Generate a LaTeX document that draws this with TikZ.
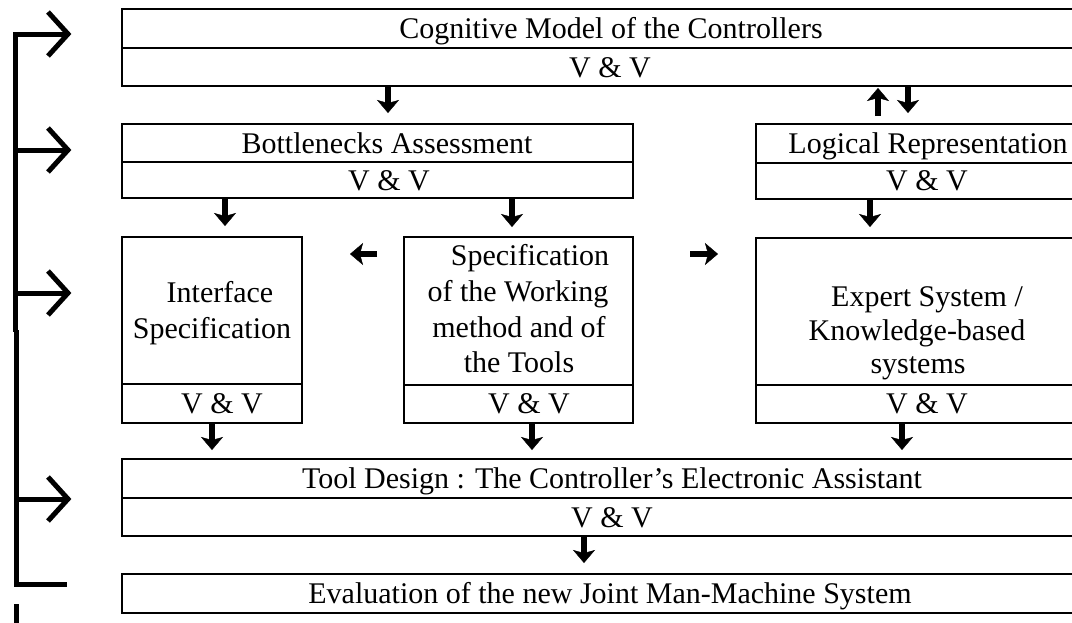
\documentclass[tikz,border=0pt]{standalone}
\usepackage{fontspec}
\setmainfont{Liberation Serif}
\usetikzlibrary{arrows.meta,calc}
\begin{document}
\begin{tikzpicture}[x=1pt,y=-1pt,
  box/.style={draw=black, line width=1.8pt, rectangle, inner sep=0pt, outer sep=0pt, anchor=north west},
  txt/.style={anchor=base, inner sep=0pt, font=\fontsize{30}{35}\selectfont},
  blk/.style={line width=6pt, -{Stealth[length=13pt,width=22pt,inset=3pt,line width=0.4pt]}},
  fb/.style={line width=5pt, line join=miter},
  chev/.style={line width=5pt, line join=miter}]
\useasboundingbox (0,0) rectangle (1072,622);
\clip (0,0) rectangle (1072,622);
% boxes
\node[box, minimum width=976pt, minimum height=39pt] (top1) at (122,9) {};
\node[box, minimum width=976pt, minimum height=38pt] (top2) at (122,48) {};
\node[box, minimum width=511pt, minimum height=38pt] (bn1) at (122,124) {};
\node[box, minimum width=511pt, minimum height=36pt] (bn2) at (122,162) {};
\node[box, minimum width=342pt, minimum height=39pt] (lr1) at (756,124) {};
\node[box, minimum width=342pt, minimum height=36pt] (lr2) at (756,163) {};
\node[box, minimum width=180pt, minimum height=147pt] (if1) at (122,237) {};
\node[box, minimum width=180pt, minimum height=39pt] (if2) at (122,384) {};
\node[box, minimum width=229pt, minimum height=148pt] (sp1) at (404,237) {};
\node[box, minimum width=229pt, minimum height=38pt] (sp2) at (404,385) {};
\node[box, minimum width=342pt, minimum height=147pt] (ex1) at (756,238) {};
\node[box, minimum width=342pt, minimum height=38pt] (ex2) at (756,385) {};
\node[box, minimum width=976pt, minimum height=39pt] (tl1) at (122,459) {};
\node[box, minimum width=976pt, minimum height=38pt] (tl2) at (122,498) {};
\node[box, minimum width=976pt, minimum height=39pt] (ev) at (122,574) {};
% texts
\node[txt] (tcog) at (611,38.5) {Cognitive Model of the Controllers};
\node[txt] (tvv1) at (610,77) {V \& V};
\node[txt] (tbn) at (387,153) {Bottlenecks Assessment};
\node[txt] (tvv2) at (389,190) {V \& V};
\node[txt] (tlr) at (928,153) {Logical Representation};
\node[txt] (tvv3) at (927,190) {V \& V};
\node[txt] (tif1) at (220,302) {Interface};
\node[txt] (tif2) at (212,338) {Specification};
\node[txt] (tvv4) at (222,413) {V \& V};
\node[txt] (tsp1) at (530,265) {Specification};
\node[txt] (tsp2) at (518,301.5) {of the Working};
\node[txt] (tsp3) at (519,337) {method and of};
\node[txt] (tsp4) at (519,372.5) {the Tools};
\node[txt] (tvv5) at (529,413) {V \& V};
\node[txt] (tex1) at (927,306) {Expert System /};
\node[txt] (tex2) at (917,340) {Knowledge-based};
\node[txt] (tex3) at (918,373) {systems};
\node[txt] (tvv6) at (927,413) {V \& V};
\node[txt] (ttl) at (612,488) {Tool Design : The Controller’s Electronic Assistant};
\node[txt] (tvv7) at (612,527) {V \& V};
\node[txt] (tev) at (610,603) {Evaluation of the new Joint Man-Machine System};
% block arrows
\draw[blk, shorten >=11pt] ([xshift=266pt]top2.south west) -- ([xshift=266pt]bn1.north west);
\draw[blk, shorten >=11pt] ([xshift=786pt]top2.south west) -- ([xshift=152pt]lr1.north west);
\draw[blk, shorten <=8pt, shorten >=2pt] ([xshift=122pt]lr1.north west) -- ([xshift=756pt]top2.south west);
\draw[blk, shorten >=11pt] ([xshift=103pt]bn2.south west) -- ([xshift=103pt]if1.north west);
\draw[blk, shorten >=10pt] ([xshift=390pt]bn2.south west) -- ([xshift=108pt]sp1.north west);
\draw[blk, shorten >=11pt] ([xshift=114pt]lr2.south west) -- ([xshift=114pt]ex1.north west);
\draw[blk, shorten <=27pt, shorten >=48pt] ([yshift=-17pt]sp1.north west) -- ([yshift=-17pt]if1.north east);
\draw[blk, shorten <=57pt, shorten >=38pt] ([yshift=-17pt]sp1.north east) -- ([yshift=-16pt]ex1.north west);
\draw[blk, shorten >=9pt] ([xshift=90pt]if2.south west) -- ([xshift=90pt]tl1.north west);
\draw[blk, shorten >=9pt] ([xshift=128pt]sp2.south west) -- ([xshift=410pt]tl1.north west);
\draw[blk, shorten >=9pt] ([xshift=146pt]ex2.south west) -- ([xshift=780pt]tl1.north west);
\draw[blk, shorten >=11pt] ([xshift=462pt]tl2.south west) -- ([xshift=462pt]ev.north west);
% feedback line
\coordinate (f0) at (15,34);
\coordinate (f1) at (15,330);
\coordinate (f2) at (16.5,330);
\coordinate (f3) at (16.5,584);
\coordinate (f4) at (67,584);
\coordinate (b1) at (68,34);
\coordinate (b2) at (68,150);
\coordinate (b3) at (68,293);
\coordinate (b4) at (68,499);
\coordinate (s1) at (16.3,604);
\coordinate (s2) at (16.3,640);
\draw[fb] (b1) -- (f0) -- ([yshift=-2pt]f1);
\draw[fb] (f2) -- (f3) -- (f4);
\draw[fb] (b2 -| f0) -- (b2);
\draw[fb] (b3 -| f0) -- (b3);
\draw[fb] (b4 -| f2) -- (b4);
\draw[fb] (s1) -- (s2);
\foreach \b in {b1,b2,b3,b4}
  \draw[chev] ([shift={(-20pt,22pt)}]\b) -- (\b) -- ([shift={(-20pt,-22pt)}]\b);
\end{tikzpicture}
\end{document}
